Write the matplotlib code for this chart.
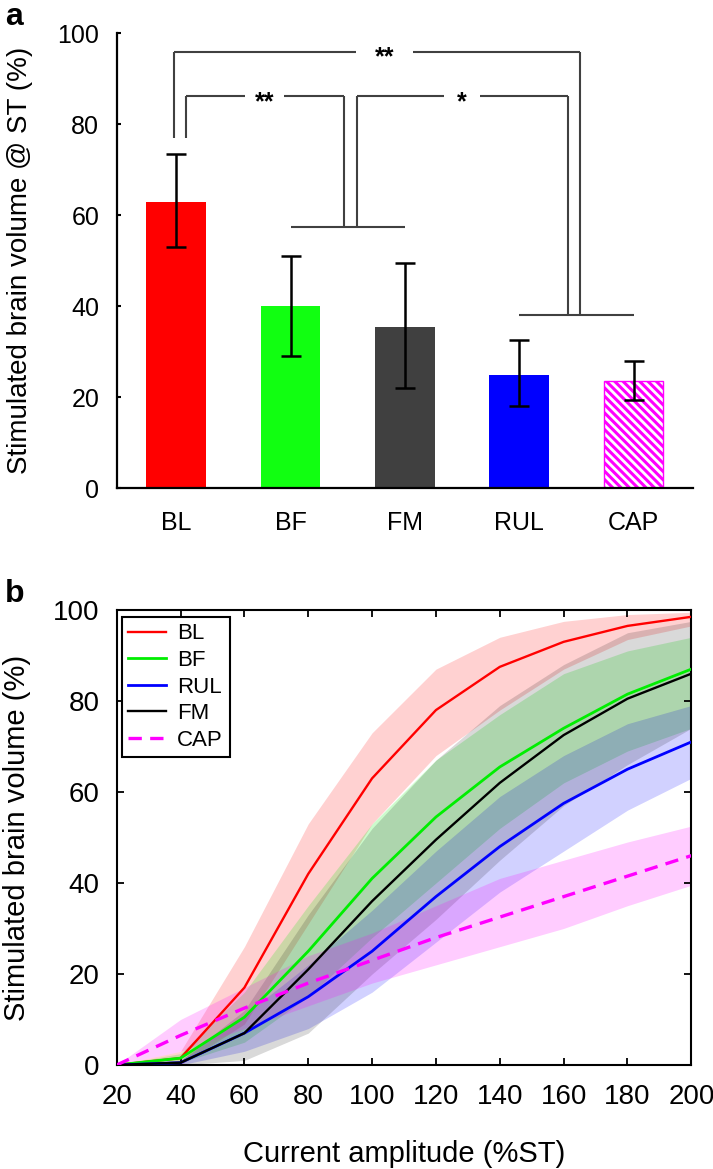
import numpy as np
import matplotlib.pyplot as plt

plt.rcParams['font.family'] = ['Liberation Sans', 'DejaVu Sans']
plt.rcParams['hatch.linewidth'] = 2.2

# ---- panel a: stimulated volume at ST ----
groups = ['BL', 'BF', 'FM', 'RUL', 'CAP']
bar_means = [63, 40, 35.5, 25, 23.5]
err_low = [53, 29, 22, 18, 19.5]
err_high = [73.5, 51, 49.5, 32.5, 28]
bar_colors = ['#ff0000', '#11ff11', '#404040', '#0000ff', 'white']

# ---- panel b: volume vs current amplitude ----
amp = [20, 40, 60, 80, 100, 120, 140, 160, 180, 200]
bl_mean = [0, 1.5, 17, 42, 63, 78, 87.5, 93, 96.5, 98.5]
bl_hi = [0, 3, 26, 53, 73, 87, 94, 97.5, 99, 99.5]
bl_lo = [0, 0, 9, 31, 53, 68, 78, 87, 93.5, 96.5]
bf_mean = [0, 1.5, 10.5, 25, 41, 54.5, 65.5, 74, 81.5, 87]
bf_hi = [0, 2.5, 16, 35, 53, 67, 77, 86, 91, 94]
bf_lo = [0, 0.5, 5, 15, 28, 40, 52, 62, 69, 74]
fm_mean = [0, 0.5, 7, 21, 36, 49.5, 62, 72.5, 80.5, 86]
fm_hi = [0, 1, 12, 33, 52, 67, 79, 88, 95, 97.5]
fm_lo = [0, 0, 1, 7, 20, 32, 45, 57, 66, 74]
rul_mean = [0, 0.5, 7, 15, 25, 37, 48, 57.5, 65, 71]
rul_hi = [0, 1, 11, 22, 34, 47, 59, 68, 75, 79]
rul_lo = [0, 0, 3, 8, 16, 27, 38, 47, 56, 63]
cap_mean = [0, 6.5, 12.5, 18, 23, 28, 32.5, 37, 41.5, 46]
cap_hi = [0, 10, 17, 24, 29, 35, 41, 45, 49, 52.5]
cap_lo = [0, 3, 8, 13, 18, 22, 26, 30, 35, 39.5]

fig = plt.figure(figsize=(7.13, 11.69), dpi=100)

# ================= a =================
ax = fig.add_axes([0.1637, 0.5823, 0.8083, 0.3892])
x = np.arange(1, len(groups) + 1)
means = np.array(bar_means)
yerr = [means - np.array(err_low), np.array(err_high) - means]

for i in range(len(groups)):
    if groups[i] == 'CAP':
        ax.bar(x[i], means[i], width=0.52, color='white', edgecolor='#ff00ff',
               hatch='\\\\\\\\', linewidth=1.0, zorder=2)
    else:
        ax.bar(x[i], means[i], width=0.52, color=bar_colors[i], linewidth=0, zorder=2)
ax.errorbar(x, means, yerr=yerr, fmt='none', ecolor='black', elinewidth=1.8,
            capsize=7, capthick=1.8, zorder=3)

ax.set_xlim(0.48, 5.52)
ax.set_ylim(0, 100)
ax.set_yticks(np.arange(0, 101, 20))
ax.set_xticks(x)
ax.set_xticklabels(groups)
ax.spines['top'].set_visible(False)
ax.spines['right'].set_visible(False)
for s in ['left', 'bottom']:
    ax.spines[s].set_linewidth(1.6)
ax.tick_params(axis='y', direction='in', length=3, width=1.5, labelsize=18, pad=12.5)
ax.tick_params(axis='x', direction='in', length=4, width=1.2, labelsize=18, pad=16)
ax.set_ylabel('Stimulated brain volume @ ST (%)', fontsize=20)
ax.yaxis.set_label_coords(-0.145, 0.5)

# significance brackets
bk = dict(color='#404040', lw=1.5, solid_capstyle='butt', clip_on=False)
y_top, y_mid, y_leg, y_g1, y_g2 = 96, 86.3, 77, 57.5, 38


def hline_gap(x0, x1, y, xc, half):
    ax.plot([x0, xc - half], [y, y], **bk)
    ax.plot([xc + half, x1], [y, y], **bk)


def stars(xc, y, txt):
    ax.annotate(txt, (xc, y), xytext=(0, -9.5), textcoords='offset points',
                ha='center', va='baseline', fontsize=18, fontweight='bold')


# BL vs RUL/CAP
hline_gap(0.98, 4.53, y_top, 2.82, 0.25)
ax.plot([0.98, 0.98], [y_leg, y_top], **bk)
ax.plot([4.53, 4.53], [y_g2, y_top], **bk)
stars(2.82, y_top, '**')
# BL vs BF/FM
hline_gap(1.09, 2.47, y_mid, 1.77, 0.17)
ax.plot([1.09, 1.09], [y_leg, y_mid], **bk)
ax.plot([2.47, 2.47], [y_g1, y_mid], **bk)
stars(1.77, y_mid, '**')
# BF/FM vs RUL/CAP
hline_gap(2.58, 4.43, y_mid, 3.50, 0.16)
ax.plot([2.58, 2.58], [y_g1, y_mid], **bk)
ax.plot([4.43, 4.43], [y_g2, y_mid], **bk)
stars(3.50, y_mid, '*')
# group lines
ax.plot([2.0, 3.0], [y_g1, y_g1], **bk)
ax.plot([4.0, 5.0], [y_g2, y_g2], **bk)

# ================= b =================
bx = fig.add_axes([0.1637, 0.0890, 0.8059, 0.3892])
series = [
    ('BL', bl_mean, bl_lo, bl_hi, '#ff0000', '-', 1.7, 0.18),
    ('BF', bf_mean, bf_lo, bf_hi, '#00ee00', '-', 2.0, 0.2),
    ('RUL', rul_mean, rul_lo, rul_hi, '#0000ff', '-', 2.0, 0.18),
    ('FM', fm_mean, fm_lo, fm_hi, 'black', '-', 1.7, 0.15),
    ('CAP', cap_mean, cap_lo, cap_hi, '#ff00ff', (0, (4, 2.5)), 2.4, 0.2),
]
for name, m, lo, hi, c, ls, lw, a in series:
    bx.fill_between(amp, lo, hi, color=c, alpha=a, linewidth=0, zorder=1)
for name, m, lo, hi, c, ls, lw, a in series:
    bx.plot(amp, m, color=c, linestyle=ls, linewidth=lw, label=name, zorder=3)

bx.set_xlim(20, 200)
bx.set_ylim(0, 100)
bx.set_xticks(np.arange(20, 201, 20))
bx.set_yticks(np.arange(0, 101, 20))
for s in bx.spines.values():
    s.set_linewidth(1.5)
bx.tick_params(axis='both', direction='in', length=5, width=1.3, top=True, right=True,
               labelsize=20)
bx.tick_params(axis='y', pad=12.5)
bx.tick_params(axis='x', pad=14)
bx.set_xlabel('Current amplitude (%ST)', fontsize=21, labelpad=21)
bx.set_ylabel('Stimulated brain volume (%)', fontsize=21)
bx.yaxis.set_label_coords(-0.15, 0.5)

leg = bx.legend(loc='upper left', bbox_to_anchor=(0.0087, 0.985), borderaxespad=0,
                fontsize=16, labelspacing=0.25, handlelength=1.7, handletextpad=0.5,
                borderpad=0.3, fancybox=False, framealpha=1, edgecolor='black')
leg.get_frame().set_linewidth(1.5)

fig.text(0.007, 1 - 25 / 1169, 'a', fontsize=23, fontweight='bold', va='baseline')
fig.text(0.007, 1 - 602 / 1169, 'b', fontsize=23, fontweight='bold', va='baseline')

plt.savefig('out.png', dpi=100)
